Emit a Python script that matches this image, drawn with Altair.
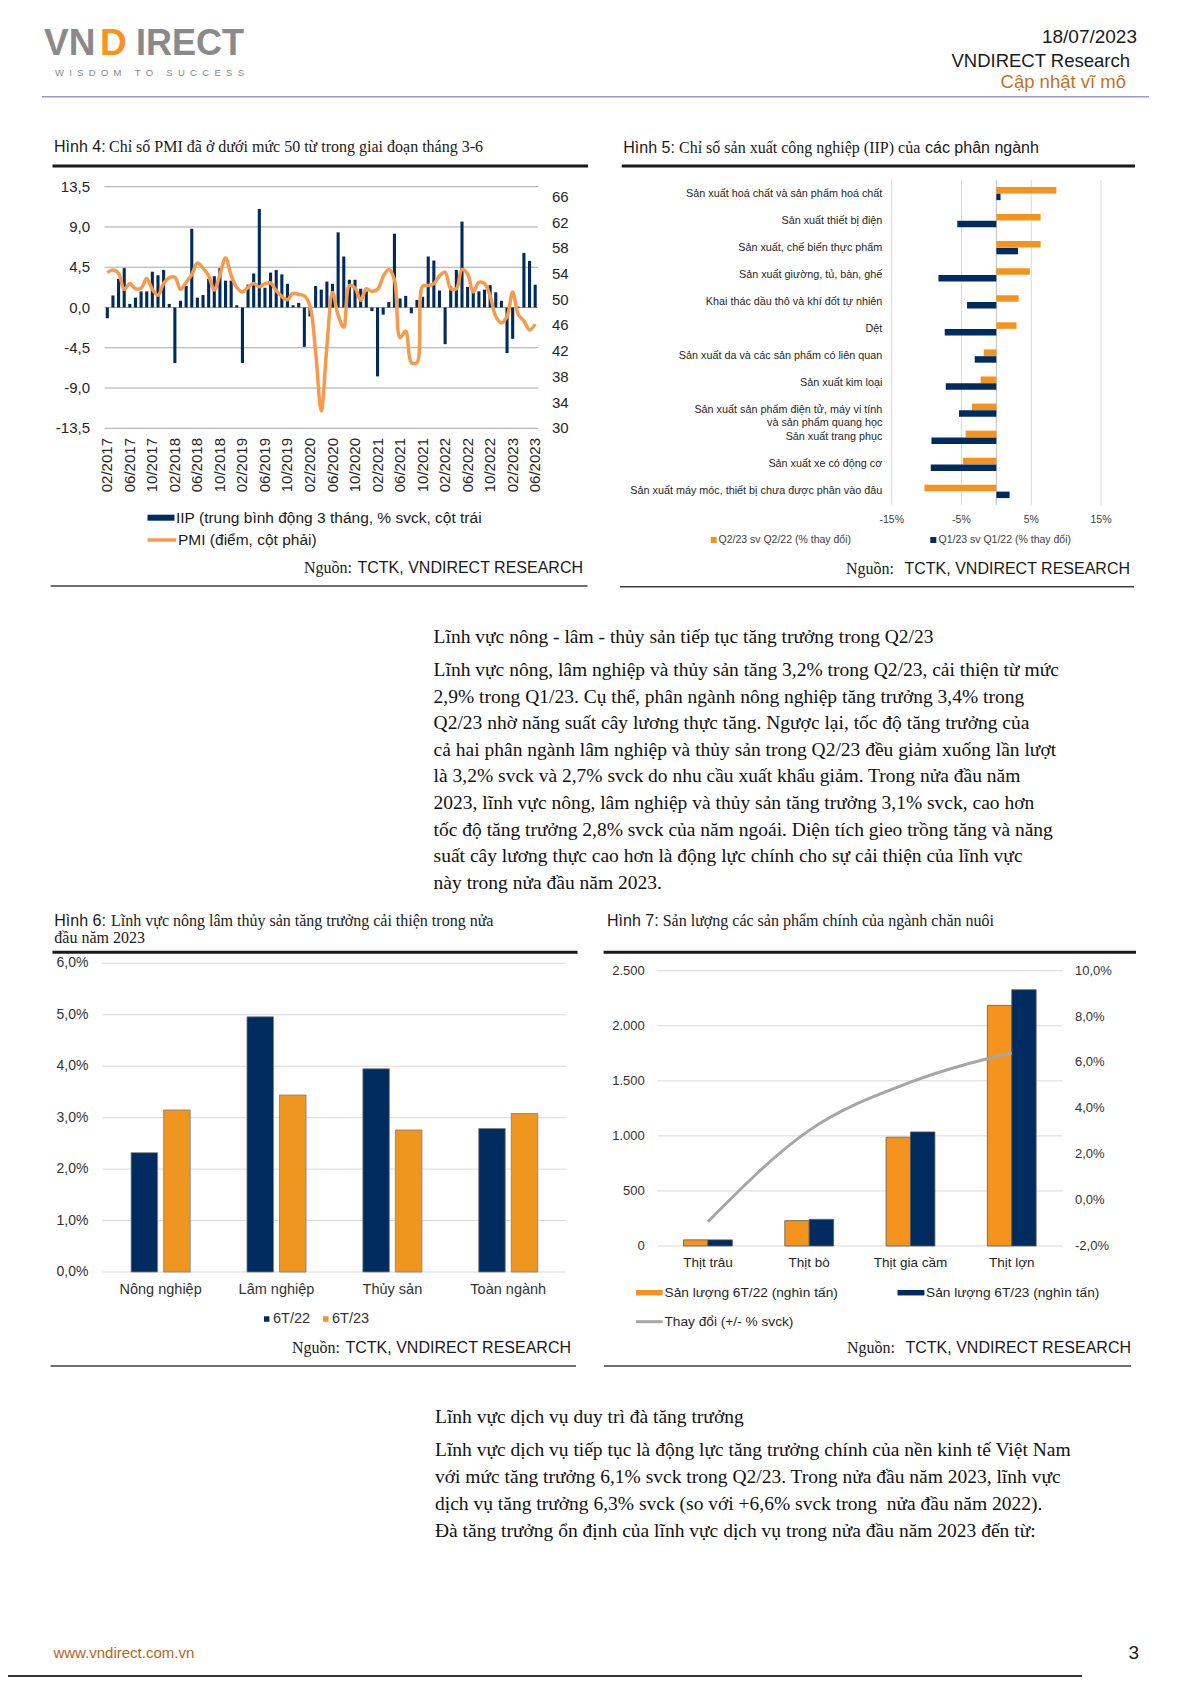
import altair as alt
import pandas as pd

SANS = "Liberation Sans"
SERIF = "Liberation Serif"
NAVY = "#002b5e"
ORANGE = "#f4941f"
PMI_ORANGE = "#f89a4c"
LINE_GRAY = "#a6a6a6"
TXT = "#1a1a1a"

W, H = 1175, 1669
OX, OY = 8, 8


def px(x):
    return x - OX


def py(y):
    return y - OY


# ---------------------------------------------------------------- data
# Hinh 4 : IIP (3-month moving avg, % yoy) and PMI, 02/2017 .. 06/2023
months = []
for yr in range(2017, 2024):
    for mo in range(1, 13):
        months.append(f"{mo:02d}/{yr}")
months = months[1:78]

iip = [-1.2, 1.35, 3.2, 4.4, 0.4, 1.1, 1.8, 1.8, 4.0, 3.6, 4.2, 0.4,
       -6.2, 0.75, 2.4, 8.8, 1.1, 1.4, 3.2, 3.5, 4.4, 3.0, 3.0, 0.25,
       -6.2, 2.55, 3.8, 11.0, 2.2, 3.9, 4.2, 3.7, 2.65, 0.25, 0.5, -4.4,
       -1.0, 2.4, 2.0, 2.9, 2.65, 8.4, 5.7, 3.1, 3.1, 2.1, 1.8, -0.4,
       -7.7, -0.8, 0.6, 8.25, 1.0, 1.3, -0.65, 0.85, 1.2, 5.7, 5.25, 1.9,
       -4.1, 2.35, 4.2, 9.6, 2.3, 2.1, 1.8, 2.0, 2.5, 1.7, 0.75, -5.1,
       -3.5, 0.1, 6.1, 5.2, 2.55]

pmi = [54.2, 54.6, 54.1, 51.6, 52.5, 51.7, 51.8, 53.3, 51.6, 50.7, 52.5,
       53.4, 53.5, 51.6, 52.7, 53.9, 55.7, 54.9, 53.7, 51.5, 53.9, 56.5, 53.8,
       51.9, 51.2, 51.9, 52.5, 52.0, 52.5, 52.6, 51.4, 50.5, 50.0, 51.0, 50.8,
       50.6, 49.0, 41.9, 32.7, 42.7, 51.1, 47.6, 45.7, 52.2, 51.8, 49.9, 51.7,
       51.3, 51.6, 53.6, 54.7, 53.1, 44.1, 45.1, 40.2, 40.2, 52.1, 52.2, 52.5,
       53.7, 54.3, 51.7, 51.7, 54.7, 54.0, 51.2, 52.7, 52.5, 50.6, 47.4, 46.4,
       47.4, 51.2, 47.7, 46.7, 45.3, 46.2]

ticks4_left = [13.5, 9.0, 4.5, 0.0, -4.5, -9.0, -13.5]
ticks4_right = [30, 34, 38, 42, 46, 50, 54, 58, 62, 66]
month_ticks = months[::4]

# Hinh 5 : IIP by sub-sector
cats5 = ["Sản xuất hoá chất và sản phẩm hoá chất",
         "Sản xuất thiết bị điện",
         "Sản xuất, chế biến thực phẩm",
         "Sản xuất giường, tủ, bàn, ghế",
         "Khai thác dầu thô và khí đốt tự nhiên",
         "Dệt",
         "Sản xuất da và các sản phẩm có liên quan",
         "Sản xuất kim loại",
         "Sản xuất sản phẩm điện tử, máy vi tính\nvà sản phẩm quang học",
         "Sản xuất trang phục",
         "Sản xuất xe có động cơ",
         "Sản xuất máy móc, thiết bị chưa được phân vào đâu"]
q2_23 = [8.6, 6.35, 6.35, 4.8, 3.2, 2.9, -1.8, -2.25, -3.5, -4.4, -4.8, -10.3]
q1_23 = [0.6, -5.6, 3.1, -8.3, -4.2, -7.4, -3.1, -7.25, -5.35, -9.3, -9.4, 1.9]
ser5 = ["Q2/23 sv Q2/22 (% thay đổi)", "Q1/23 sv Q1/22 (% thay đổi)"]
ticks5 = [-15, -5, 5, 15]

# Hinh 6 : agro-forestry-fishery growth
cats6 = ["Nông nghiệp", "Lâm nghiệp", "Thủy sản", "Toàn ngành"]
g6_22 = [2.32, 4.96, 3.95, 2.79]
g6_23 = [3.15, 3.44, 2.76, 3.08]
ser6 = ["6T/22", "6T/23"]
ticks6 = [0, 1, 2, 3, 4, 5, 6]

# Hinh 7 : livestock output
cats7 = ["Thịt trâu", "Thịt bò", "Thịt gia cầm", "Thịt lợn"]
out7_22 = [56, 230, 988, 2185]
out7_23 = [55.5, 242, 1036, 2327]
chg7 = [-0.94, 3.04, 5.14, 6.42]
ser7 = ["Sản lượng 6T/22 (nghìn tấn)", "Sản lượng 6T/23 (nghìn tấn)"]
ticks7_left = [0, 500, 1000, 1500, 2000, 2500]
ticks7_right = [-2, 0, 2, 4, 6, 8, 10]

para1_head = "Lĩnh vực nông - lâm - thủy sản tiếp tục tăng trưởng trong Q2/23"
para1 = ["Lĩnh vực nông, lâm nghiệp và thủy sản tăng 3,2% trong Q2/23, cải thiện từ mức",
         "2,9% trong Q1/23. Cụ thể, phân ngành nông nghiệp tăng trưởng 3,4% trong",
         "Q2/23 nhờ năng suất cây lương thực tăng. Ngược lại, tốc độ tăng trưởng của",
         "cả hai phân ngành lâm nghiệp và thủy sản trong Q2/23 đều giảm xuống lần lượt",
         "là 3,2% svck và 2,7% svck do nhu cầu xuất khẩu giảm. Trong nửa đầu năm",
         "2023, lĩnh vực nông, lâm nghiệp và thủy sản tăng trưởng 3,1% svck, cao hơn",
         "tốc độ tăng trưởng 2,8% svck của năm ngoái. Diện tích gieo trồng tăng và năng",
         "suất cây lương thực cao hơn là động lực chính cho sự cải thiện của lĩnh vực",
         "này trong nửa đầu năm 2023."]
para2_head = "Lĩnh vực dịch vụ duy trì đà tăng trưởng"
para2 = ["Lĩnh vực dịch vụ tiếp tục là động lực tăng trưởng chính của nền kinh tế Việt Nam",
         "với mức tăng trưởng 6,1% svck trong Q2/23. Trong nửa đầu năm 2023, lĩnh vực",
         "dịch vụ tăng trưởng 6,3% svck (so với +6,6% svck trong\u00a0 nửa đầu năm 2022).",
         "Đà tăng trưởng ổn định của lĩnh vực dịch vụ trong nửa đầu năm 2023 đến từ:"]

NB = "\u00a0"
tagline = (NB * 5).join((NB * 2).join(list(w)) for w in ["WISDOM", "TO", "SUCCESS"])


def pct(v, d=1):
    return f"{v:.{d}f}".replace(".", ",") + "%"


def dec(v):
    return f"{v:.1f}".replace(".", ",")


def thousands(v):
    return f"{v:,}".replace(",", ".")


# ---------------------------------------------------------------- helpers
_one = pd.DataFrame({"k": [0]})
layers = []


def text(s, x, y, size, font=SANS, color=TXT, align="left", weight="normal",
         baseline="middle"):
    return alt.Chart(pd.DataFrame({"t": [s]})).mark_text(
        align=align, baseline=baseline, font=font, fontSize=size,
        color=color, fontWeight=weight
    ).encode(x=alt.value(px(x)), y=alt.value(py(y)), text="t:N")


def hline(x1, x2, y, color, width):
    return alt.Chart(_one).mark_rule(color=color, strokeWidth=width).encode(
        x=alt.value(px(x1)), x2=alt.value(px(x2)), y=alt.value(py(y)))


def square(x, y, color, size):
    return alt.Chart(_one).mark_square(color=color, size=size, opacity=1).encode(
        x=alt.value(px(x)), y=alt.value(py(y)))


def lines_block(lines, x, y0, y1, size, font=SERIF):
    df = pd.DataFrame({"i": list(range(len(lines))), "t": lines})
    return alt.Chart(df).mark_text(
        align="left", baseline="middle", font=font, fontSize=size, color="#111111"
    ).encode(
        x=alt.value(px(x)),
        y=alt.Y("i:Q", scale=alt.Scale(domain=[0, len(lines) - 1],
                                       range=[py(y0), py(y1)], nice=False, zero=False),
                axis=None),
        text="t:N")


def source(xr, y, double=False):
    gap = 10 if double else 5
    return [text("TCTK, VNDIRECT RESEARCH", xr, y, 16, SANS, TXT, "right"),
            text("Nguồn:", xr - 226 - gap, y, 16, SERIF, TXT, "right")]


# ---------------------------------------------------------------- header
layers += [
    text("VN", 44, 55, 37, SANS, "#8a8a8a", weight="bold", baseline="alphabetic"),
    text("D", 100, 55, 37, SANS, "#f7941d", weight="bold", baseline="alphabetic"),
    text("IRECT", 136, 55, 36, SANS, "#8a8a8a", weight="bold", baseline="alphabetic"),
    text(tagline, 55, 72.5, 9.5, SANS, "#8a8a8a"),
    text("18/07/2023", 1137, 37, 19, SANS, TXT, "right"),
    text("VNDIRECT Research", 1130, 61, 18.5, SANS, TXT, "right"),
    text("Cập nhật vĩ mô", 1126, 82, 18.5, SANS, "#c0731f", "right"),
    hline(42, 1149, 96.7, "#9999cc", 1.5),
]

# ---------------------------------------------------------------- Hinh 4
x4_band = alt.Scale(domain=months, range=[px(104.5), px(538)],
                    paddingInner=0.45, paddingOuter=0.225)
x4_point = alt.Scale(type="point", domain=months, range=[px(104.5), px(538)], padding=0.5)
y4_l = alt.Scale(domain=[-13.5, 13.5], range=[py(428.3), py(186.7)], nice=False, zero=False)
y4_r = alt.Scale(domain=[30, 67.57], range=[py(428.3), py(186.7)], nice=False, zero=False)

df4 = pd.DataFrame({"m": months, "iip": iip, "pmi": pmi, "idx": list(range(len(months)))})
t4l = pd.DataFrame({"v": ticks4_left, "lab": [dec(v) for v in ticks4_left]})
t4r = pd.DataFrame({"v": ticks4_right, "lab": [str(v) for v in ticks4_right]})
t4x = pd.DataFrame({"m": month_ticks})

layers += [
    text("Hình 4:", 54, 147, 16, SANS),
    text("Chỉ số PMI đã ở dưới mức 50 từ trong giai đoạn tháng 3-6", 109, 147, 16, SERIF),
    hline(52.5, 588, 166, "#1a1a1a", 3),
    alt.Chart(t4l).mark_rule(color="#a8a8a8", strokeWidth=1).encode(
        y=alt.Y("v:Q", scale=y4_l, axis=None),
        x=alt.value(px(104.5)), x2=alt.value(px(538))),
    alt.Chart(t4l).mark_text(align="right", baseline="middle", font=SANS, fontSize=15,
                             color="#262626").encode(
        y=alt.Y("v:Q", scale=y4_l, axis=None), x=alt.value(px(90)), text="lab:N"),
    alt.Chart(t4r).mark_text(align="left", baseline="middle", font=SANS, fontSize=15,
                             color="#262626").encode(
        y=alt.Y("v:Q", scale=y4_r, axis=None), x=alt.value(px(552)), text="lab:N"),
    alt.Chart(t4x).mark_text(align="right", baseline="middle", angle=270, font=SANS,
                             fontSize=15, color="#262626").encode(
        x=alt.X("m:N", scale=x4_point, axis=None), y=alt.value(py(438)), text="m:N"),
    alt.Chart(df4).mark_bar(color=NAVY).encode(
        x=alt.X("m:N", scale=x4_band, axis=None),
        y=alt.Y("iip:Q", scale=y4_l, axis=None)),
    alt.Chart(df4).mark_line(color=PMI_ORANGE, strokeWidth=3.5,
                             interpolate="catmull-rom").encode(
        x=alt.X("m:N", scale=x4_point, axis=None),
        y=alt.Y("pmi:Q", scale=y4_r, axis=None),
        order=alt.Order("idx:Q")),
    hline(147.5, 174.5, 517.7, NAVY, 6),
    text("IIP (trung bình động 3 tháng, % svck, cột trái", 176, 517.7, 15.5, SANS),
    hline(147.5, 176, 540, PMI_ORANGE, 3.5),
    text("PMI (điểm, cột phải)", 178, 540, 15.5, SANS),
]
layers += source(583, 568)
layers.append(hline(50.7, 587.6, 586, "#404040", 1.5))

# ---------------------------------------------------------------- Hinh 5
y5_band = alt.Scale(domain=cats5, range=[py(180), py(505)], paddingInner=0.51, paddingOuter=0.255)
y5_point = alt.Scale(type="point", domain=cats5, range=[py(180), py(505)], padding=0.5)
x5 = alt.Scale(domain=[-15, 15], range=[px(891.7), px(1101)], nice=False, zero=False)

df5 = pd.DataFrame({"cat": cats5 * 2, "s": [ser5[0]] * 12 + [ser5[1]] * 12,
                    "v": q2_23 + q1_23})
t5 = pd.DataFrame({"v": ticks5, "lab": [f"{v}%" for v in ticks5]})
c5 = pd.DataFrame({"cat": cats5})

layers += [
    text("Hình 5:", 623.3, 148.3, 16, SANS),
    text("Chỉ số sản xuất công nghiệp (IIP) của", 679, 148.3, 16, SERIF),
    text("các phân ngành", 925, 148.3, 16, SANS),
    hline(621.7, 1135, 166, "#1a1a1a", 3),
    alt.Chart(t5).mark_rule(color="#d9d9d9", strokeWidth=1).encode(
        x=alt.X("v:Q", scale=x5, axis=None),
        y=alt.value(py(180)), y2=alt.value(py(505))),
    alt.Chart(pd.DataFrame({"v": [0]})).mark_rule(color="#bfbfbf", strokeWidth=1).encode(
        x=alt.X("v:Q", scale=x5, axis=None),
        y=alt.value(py(180)), y2=alt.value(py(505))),
    alt.Chart(t5).mark_text(align="center", baseline="middle", font=SANS, fontSize=10.5,
                            color="#404040").encode(
        x=alt.X("v:Q", scale=x5, axis=None), y=alt.value(py(520)), text="lab:N"),
    alt.Chart(c5).mark_text(align="right", baseline="middle", font=SANS, fontSize=10.8,
                            color="#262626", lineBreak="\n").encode(
        y=alt.Y("cat:N", scale=y5_point, axis=None), x=alt.value(px(882.3)), text="cat:N"),
    alt.Chart(df5).mark_bar().encode(
        y=alt.Y("cat:N", scale=y5_band, axis=None),
        yOffset=alt.YOffset("s:N", scale=alt.Scale(domain=ser5, paddingInner=0.04)),
        x=alt.X("v:Q", scale=x5, axis=None),
        color=alt.Color("s:N", scale=alt.Scale(domain=ser5, range=[ORANGE, NAVY]), legend=None)),
    square(713.7, 540, ORANGE, 36),
    text(ser5[0], 718.5, 540, 10.5, SANS, "#404040"),
    square(933.3, 540, NAVY, 36),
    text(ser5[1], 938.5, 540, 10.5, SANS, "#404040"),
]
layers += source(1130, 569.3, double=True)
layers.append(hline(620, 1134, 586.7, "#404040", 1.5))

# ---------------------------------------------------------------- paragraph 1
layers += [
    text(para1_head, 433.6, 636.7, 19.5, SERIF, "#111111"),
    lines_block(para1, 433.6, 670, 882.7, 19.5),
]

# ---------------------------------------------------------------- Hinh 6
x6_band = alt.Scale(domain=cats6, range=[px(102.7), px(566.2)], paddingInner=0.49, paddingOuter=0.245)
x6_point = alt.Scale(type="point", domain=cats6, range=[px(102.7), px(566.2)], padding=0.5)
y6 = alt.Scale(domain=[0, 6], range=[py(1272), py(963.3)], nice=False, zero=False)

df6 = pd.DataFrame({"cat": cats6 * 2, "s": [ser6[0]] * 4 + [ser6[1]] * 4, "v": g6_22 + g6_23})
t6 = pd.DataFrame({"v": ticks6, "lab": [pct(v) for v in ticks6]})
c6 = pd.DataFrame({"cat": cats6})

layers += [
    text("Hình 6:", 54.3, 920.7, 16, SANS),
    text("Lĩnh vực nông lâm thủy sản tăng trưởng cải thiện trong nửa", 111, 920.7, 16, SERIF),
    text("đầu năm 2023", 54.3, 938.3, 16, SERIF),
    hline(52.5, 577.6, 952.3, "#1a1a1a", 3),
    alt.Chart(t6).mark_rule(color="#d9d9d9", strokeWidth=1).encode(
        y=alt.Y("v:Q", scale=y6, axis=None),
        x=alt.value(px(102.7)), x2=alt.value(px(566.2))),
    alt.Chart(t6).mark_text(align="right", baseline="middle", font=SANS, fontSize=14,
                            color="#333333").encode(
        y=alt.Y("v:Q", scale=y6, axis=None), x=alt.value(px(88.4)), text="lab:N"),
    alt.Chart(df6).mark_bar(stroke="#7f7f7f", strokeWidth=0.8).encode(
        x=alt.X("cat:N", scale=x6_band, axis=None),
        xOffset=alt.XOffset("s:N", scale=alt.Scale(domain=ser6, paddingInner=0.185, paddingOuter=0)),
        y=alt.Y("v:Q", scale=y6, axis=None),
        color=alt.Color("s:N", scale=alt.Scale(domain=ser6, range=[NAVY, "#ef9621"]), legend=None)),
    alt.Chart(c6).mark_text(align="center", baseline="middle", font=SANS, fontSize=14.5,
                            color="#333333").encode(
        x=alt.X("cat:N", scale=x6_point, axis=None), y=alt.value(py(1290)), text="cat:N"),
    square(266.7, 1319, NAVY, 30),
    text(ser6[0], 273, 1319, 14.5, SANS, "#333333"),
    square(325.8, 1319, "#ef9621", 30),
    text(ser6[1], 332, 1319, 14.5, SANS, "#333333"),
]
layers += source(571, 1348)
layers.append(hline(50.5, 576, 1366, "#404040", 1.5))

# ---------------------------------------------------------------- Hinh 7
x7_band = alt.Scale(domain=cats7, range=[px(657.3), px(1062.4)], paddingInner=0.518, paddingOuter=0.259)
x7_point = alt.Scale(type="point", domain=cats7, range=[px(657.3), px(1062.4)], padding=0.5)
y7_l = alt.Scale(domain=[0, 2500], range=[py(1246), py(970.7)], nice=False, zero=False)
y7_r = alt.Scale(domain=[-2, 10], range=[py(1246), py(970.7)], nice=False, zero=False)

df7 = pd.DataFrame({"cat": cats7 * 2, "s": [ser7[0]] * 4 + [ser7[1]] * 4, "v": out7_22 + out7_23})
df7c = pd.DataFrame({"cat": cats7, "c": chg7, "idx": list(range(4))})
t7l = pd.DataFrame({"v": ticks7_left, "lab": [thousands(v) for v in ticks7_left]})
t7r = pd.DataFrame({"v": ticks7_right, "lab": [pct(v) for v in ticks7_right]})
c7 = pd.DataFrame({"cat": cats7})

layers += [
    text("Hình 7:", 607, 920.7, 16, SANS),
    text("Sản lượng các sản phẩm chính của ngành chăn nuôi", 662.7, 920.7, 16, SERIF),
    hline(603.6, 1136, 952.3, "#1a1a1a", 3),
    alt.Chart(t7l).mark_rule(color="#d9d9d9", strokeWidth=1).encode(
        y=alt.Y("v:Q", scale=y7_l, axis=None),
        x=alt.value(px(657.3)), x2=alt.value(px(1062.4))),
    alt.Chart(t7l).mark_text(align="right", baseline="middle", font=SANS, fontSize=13,
                             color="#333333").encode(
        y=alt.Y("v:Q", scale=y7_l, axis=None), x=alt.value(px(644.8)), text="lab:N"),
    alt.Chart(t7r).mark_text(align="left", baseline="middle", font=SANS, fontSize=13,
                             color="#333333").encode(
        y=alt.Y("v:Q", scale=y7_r, axis=None), x=alt.value(px(1075)), text="lab:N"),
    alt.Chart(df7).mark_bar(stroke="#595959", strokeWidth=0.8).encode(
        x=alt.X("cat:N", scale=x7_band, axis=None),
        xOffset=alt.XOffset("s:N", scale=alt.Scale(domain=ser7, paddingInner=0, paddingOuter=0)),
        y=alt.Y("v:Q", scale=y7_l, axis=None),
        color=alt.Color("s:N", scale=alt.Scale(domain=ser7, range=[ORANGE, NAVY]), legend=None)),
    alt.Chart(df7c).mark_line(color=LINE_GRAY, strokeWidth=3, interpolate="monotone").encode(
        x=alt.X("cat:N", scale=x7_point, axis=None),
        y=alt.Y("c:Q", scale=y7_r, axis=None),
        order=alt.Order("idx:Q")),
    alt.Chart(c7).mark_text(align="center", baseline="middle", font=SANS, fontSize=13.5,
                            color="#262626").encode(
        x=alt.X("cat:N", scale=x7_point, axis=None), y=alt.value(py(1263.3)), text="cat:N"),
    hline(636, 662.7, 1292.7, ORANGE, 5.5),
    text(ser7[0], 664.5, 1292.7, 13.7, SANS, "#262626"),
    hline(897.5, 924.4, 1292.7, NAVY, 5.5),
    text(ser7[1], 926, 1292.7, 13.7, SANS, "#262626"),
    hline(636, 662.7, 1321.7, LINE_GRAY, 3),
    text("Thay đổi (+/- % svck)", 664.5, 1321.7, 13.7, SANS, "#262626"),
]
layers += source(1131, 1348, double=True)
layers.append(hline(604, 1131, 1366, "#404040", 1.5))

# ---------------------------------------------------------------- paragraph 2 + footer
layers += [
    text(para2_head, 435, 1416.7, 19.5, SERIF, "#111111"),
    lines_block(para2, 435, 1450, 1530.7, 19.5),
    text("www.vndirect.com.vn", 53.4, 1653, 15, SANS, "#b5651d"),
    text("3", 1139, 1653, 19, SANS, TXT, "right"),
    hline(8, 1082, 1676, "#333333", 2),
]

page = alt.layer(*layers).resolve_scale(
    x="independent", y="independent", color="independent",
    xOffset="independent", yOffset="independent"
).properties(
    width=W, height=H,
    autosize=alt.AutoSizeParams(type="none"),
    padding=0,
).configure_view(stroke=None)

page.save("out.html", embed_options={"renderer": "svg", "actions": False})
